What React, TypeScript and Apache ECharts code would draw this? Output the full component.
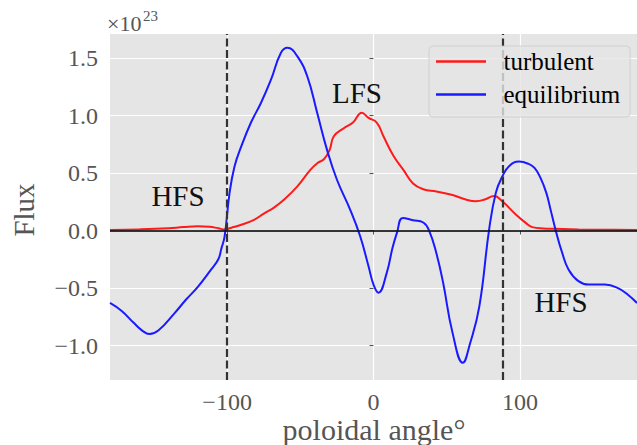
import React, { useEffect, useRef } from "react";
import * as echarts from "echarts";

const angleTicks = [-100, 0, 100];
const fluxTicks = [-1.0, -0.5, 0.0, 0.5, 1.0, 1.5];

const equilibriumAngle = [-180,-172,-164,-158,-153,-147,-136,-128,-120,-111,-106,-104,-101.7,-98.3,-94.9,-90.4,-83.7,-76.9,-70.1,-63.3,-58.8,-52,-45.2,-38.4,-31.7,-24.9,-15.9,-9.1,-3.4,0,3.4,9,13,16,20,27,34,38,43,47.5,54,61,66,72.3,79,83.6,88,92.6,99.4,106,110,114,118,121,124.3,128.8,133.3,140,147,158,167,174,180];
const equilibriumFlux = [-0.63,-0.7,-0.8,-0.87,-0.9,-0.87,-0.72,-0.6,-0.49,-0.34,-0.25,-0.16,-0.05,0.33,0.56,0.73,0.94,1.11,1.31,1.545,1.59,1.515,1.34,1.02,0.7,0.44,0.18,-0.05,-0.31,-0.47,-0.54,-0.37,-0.15,-0.02,0.11,0.09,0.07,0.0,-0.2,-0.45,-0.89,-1.15,-0.98,-0.66,0.01,0.33,0.47,0.56,0.6,0.58,0.545,0.46,0.33,0.18,0.01,-0.19,-0.34,-0.44,-0.47,-0.47,-0.5,-0.56,-0.63];

const turbulentAngle = [-180,-160,-140,-130,-120,-112,-106,-101.7,-97,-90.4,-82,-74.6,-68,-61,-52,-43,-38,-33.9,-30,-27.1,-20.3,-14,-8,-3.4,2.2,6.8,13.6,20.3,27,34,43,54,63,70,76,82.4,88,97.2,104,108.5,116,124,140,160,180];
const turbulentFlux = [0.005,0.01,0.02,0.03,0.037,0.033,0.02,0.01,0.025,0.05,0.09,0.15,0.2,0.27,0.385,0.53,0.59,0.62,0.7,0.82,0.89,0.94,1.025,0.98,0.94,0.82,0.65,0.53,0.41,0.36,0.34,0.31,0.27,0.255,0.27,0.3,0.255,0.14,0.067,0.03,0.018,0.015,0.01,0.007,0.005];

const separatrixAngles = [-100, 88];
const seriesNames = ["turbulent", "equilibrium"];

const FONT = "'Liberation Serif', 'Times New Roman', serif";
const minus = (s: string) => s.replace("-", "\u2212");

export default function App() {
  const ref = useRef<HTMLDivElement>(null);
  useEffect(() => {
    if (!ref.current) return;
    const chart = echarts.init(ref.current, null, { renderer: "svg" });
    const pairs = (xs: number[], ys: number[]) => xs.map((x, i) => [x, ys[i]]);
    chart.setOption({
      animation: false,
      grid: {
        left: 110,
        right: -5,
        top: 34,
        bottom: 65,
        show: true,
        backgroundColor: "#E5E5E5",
        borderWidth: 0,
      },
      xAxis: {
        type: "value",
        min: -180,
        max: 180,
        axisLine: { show: false },
        axisTick: { show: true, length: 4, lineStyle: { color: "#555" }, customValues: angleTicks },
        axisLabel: { show: false, customValues: angleTicks },
        splitLine: { show: true, lineStyle: { color: "#fff", width: 1.2 } },
      },
      yAxis: {
        type: "value",
        min: -1.3,
        max: 1.71,
        axisLine: { show: false },
        axisTick: { show: true, length: 4, lineStyle: { color: "#555" }, customValues: fluxTicks },
        axisLabel: { show: false, customValues: fluxTicks },
        splitLine: { show: true, lineStyle: { color: "#fff", width: 1.2 } },
      },
      legend: {
        data: seriesNames.map((n) => ({ name: n, icon: "rect" })),
        orient: "vertical",
        left: 429,
        top: 46,
        padding: [3, 10, 10, 7],
        itemWidth: 50,
        itemHeight: 2.5,
        itemGap: 8,
        backgroundColor: "rgba(229,229,229,0.8)",
        borderColor: "rgba(204,204,204,0.8)",
        borderWidth: 1,
        borderRadius: 4,
        z: 10,
        formatter: (name: string) => "  " + name,
        textStyle: { fontFamily: FONT, fontSize: 25, color: "#000" },
      },
      series: [
        {
          name: "turbulent",
          type: "line",
          data: pairs(turbulentAngle, turbulentFlux),
          smooth: 0.45,
          symbol: "none",
          lineStyle: { color: "#ff1a1a", width: 2 },
          itemStyle: { color: "#ff1a1a" },
          z: 3,
        },
        {
          name: "equilibrium",
          type: "line",
          data: pairs(equilibriumAngle, equilibriumFlux),
          smooth: 0.45,
          symbol: "none",
          lineStyle: { color: "#1a1aff", width: 2 },
          itemStyle: { color: "#1a1aff" },
          z: 3,
        },
        {
          name: "refs",
          type: "line",
          data: [],
          z: 4,
          markLine: {
            silent: true,
            symbol: "none",
            label: { show: false },
            animation: false,
            data: [
              ...separatrixAngles.map((a) => ({
                xAxis: a,
                lineStyle: { color: "#333", width: 2.2, type: [8, 3.5], opacity: 1 },
              })),
              { yAxis: 0, lineStyle: { color: "rgba(20,20,20,0.85)", width: 2, type: "solid" } },
            ],
          },
        },
      ],
    });

    const txt = (x: number, y: number, text: string, size: number, fill: string, align: string, extra: any = {}) => ({
      type: "text",
      x,
      y,
      z: 5,
      ...extra,
      style: { text, fontFamily: FONT, fontSize: size, fill, align, verticalAlign: "middle" },
    });

    const xLabels = angleTicks.map((v) => {
      const px = chart.convertToPixel({ xAxisIndex: 0 }, v) as number;
      return txt(px, 402, minus(String(v)), 24, "#555", "center");
    });
    const yLabels = fluxTicks.map((v) => {
      const py = chart.convertToPixel({ yAxisIndex: 0 }, v) as number;
      return txt(98, py, minus(v.toFixed(1)), 24, "#555", "right");
    });

    chart.setOption({
      graphic: [
        ...xLabels,
        ...yLabels,
        txt(107, 23, "×10", 22, "#555", "left"),
        txt(143, 16, "23", 15, "#555", "left"),
        txt(24, 210, "Flux", 29, "#555", "center", { rotation: Math.PI / 2 }),
        txt(374, 429, "poloidal angle°", 30, "#555", "center"),
        txt(178, 196, "HFS", 29, "#111", "center"),
        txt(357, 93, "LFS", 29, "#111", "center"),
        txt(561, 302, "HFS", 29, "#111", "center"),
      ],
    });
    return () => chart.dispose();
  }, []);
  return <div ref={ref} style={{ width: 637, height: 445, position: "absolute", left: 0, top: 0 }} />;
}
